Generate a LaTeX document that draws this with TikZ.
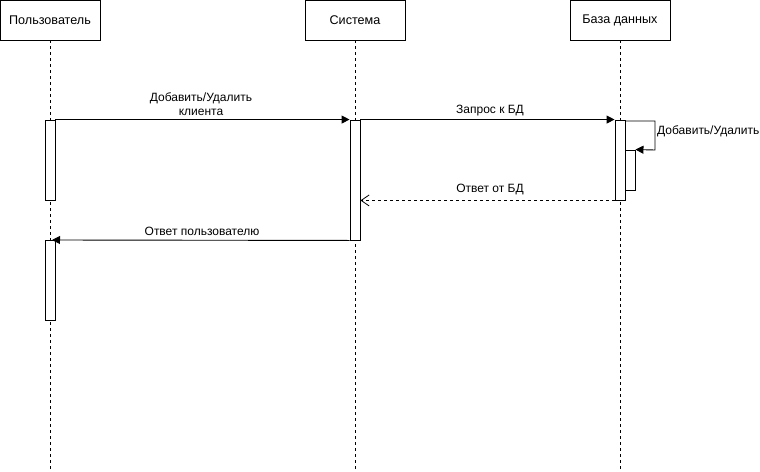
\documentclass[tikz,border=0pt]{standalone}
\usepackage{fontspec}
\setmainfont{Liberation Sans}
\usetikzlibrary{arrows.meta}
\begin{document}
\begin{tikzpicture}[x=1pt,y=-1pt,
  head/.style={draw, line width=0.9pt, fill=white, minimum width=100pt, minimum height=40pt, inner sep=0pt, font=\fontsize{12.6}{14}\selectfont},
  life/.style={line width=0.8pt, dash pattern=on 3pt off 3pt},
  act/.style={draw, line width=0.9pt, fill=white, minimum width=10pt, inner sep=0pt},
  msg/.style={line width=0.9pt, -{Triangle[length=8pt,width=8pt]}},
  reply/.style={line width=0.8pt, dash pattern=on 3pt off 3pt, -{Straight Barb[length=8pt,width=11pt]}},
  lbl/.style={font=\fontsize{12}{14.5}\selectfont, align=center, inner sep=0pt}]
\useasboundingbox (0,0) rectangle (760,471);

% participants
\node[head] (user) at (50,20) {Пользователь};
\node[head] (sys) at (355,20) {Система};
\node[head] (db) at (620,20) {База данных};

% lifelines
\coordinate (userEnd) at (50,471);
\coordinate (sysEnd) at (355,471);
\coordinate (dbEnd) at (620,471);
\draw[life] (user.south) -- (userEnd);
\draw[life] (sys.south) -- (sysEnd);
\draw[life] (db.south) -- (dbEnd);

% activation bars
\node[act, minimum height=80pt] (ua1) at (50,160) {};
\node[act, minimum height=80pt] (ua2) at (50,280) {};
\node[act, minimum height=120pt] (sa) at (355,180) {};
\node[act, minimum height=80pt] (da) at (620,160) {};
\node[act, minimum height=40pt] (dn) at (630,170) {};

% messages
\draw[msg] (ua1.north east) -- (sa.north west);
\node[lbl] (m1) at (201,104) {Добавить/Удалить\\клиента};

\draw[msg] (sa.north east) -- (da.north west);
\node[lbl] (m2) at (490,111) {Запрос к БД};

% self call
\coordinate (selfA) at (655,121);
\coordinate (selfB) at (655,150);
\draw[msg] (da.east |- selfA) -- (selfA) -- (selfB) -- (dn.north east);
\node[lbl, anchor=west] (m3) at (657,131) {Добавить/Удалить};

\draw[reply] (da.south west) -- (sa.east |- da.south west);
\node[lbl] (m4) at (490,190) {Ответ от БД};

\coordinate (ret) at (52,240);
\draw[msg] (sa.south west) -- (ret);
\node[lbl] (m5) at (202,231) {Ответ пользователю};
\end{tikzpicture}
\end{document}
